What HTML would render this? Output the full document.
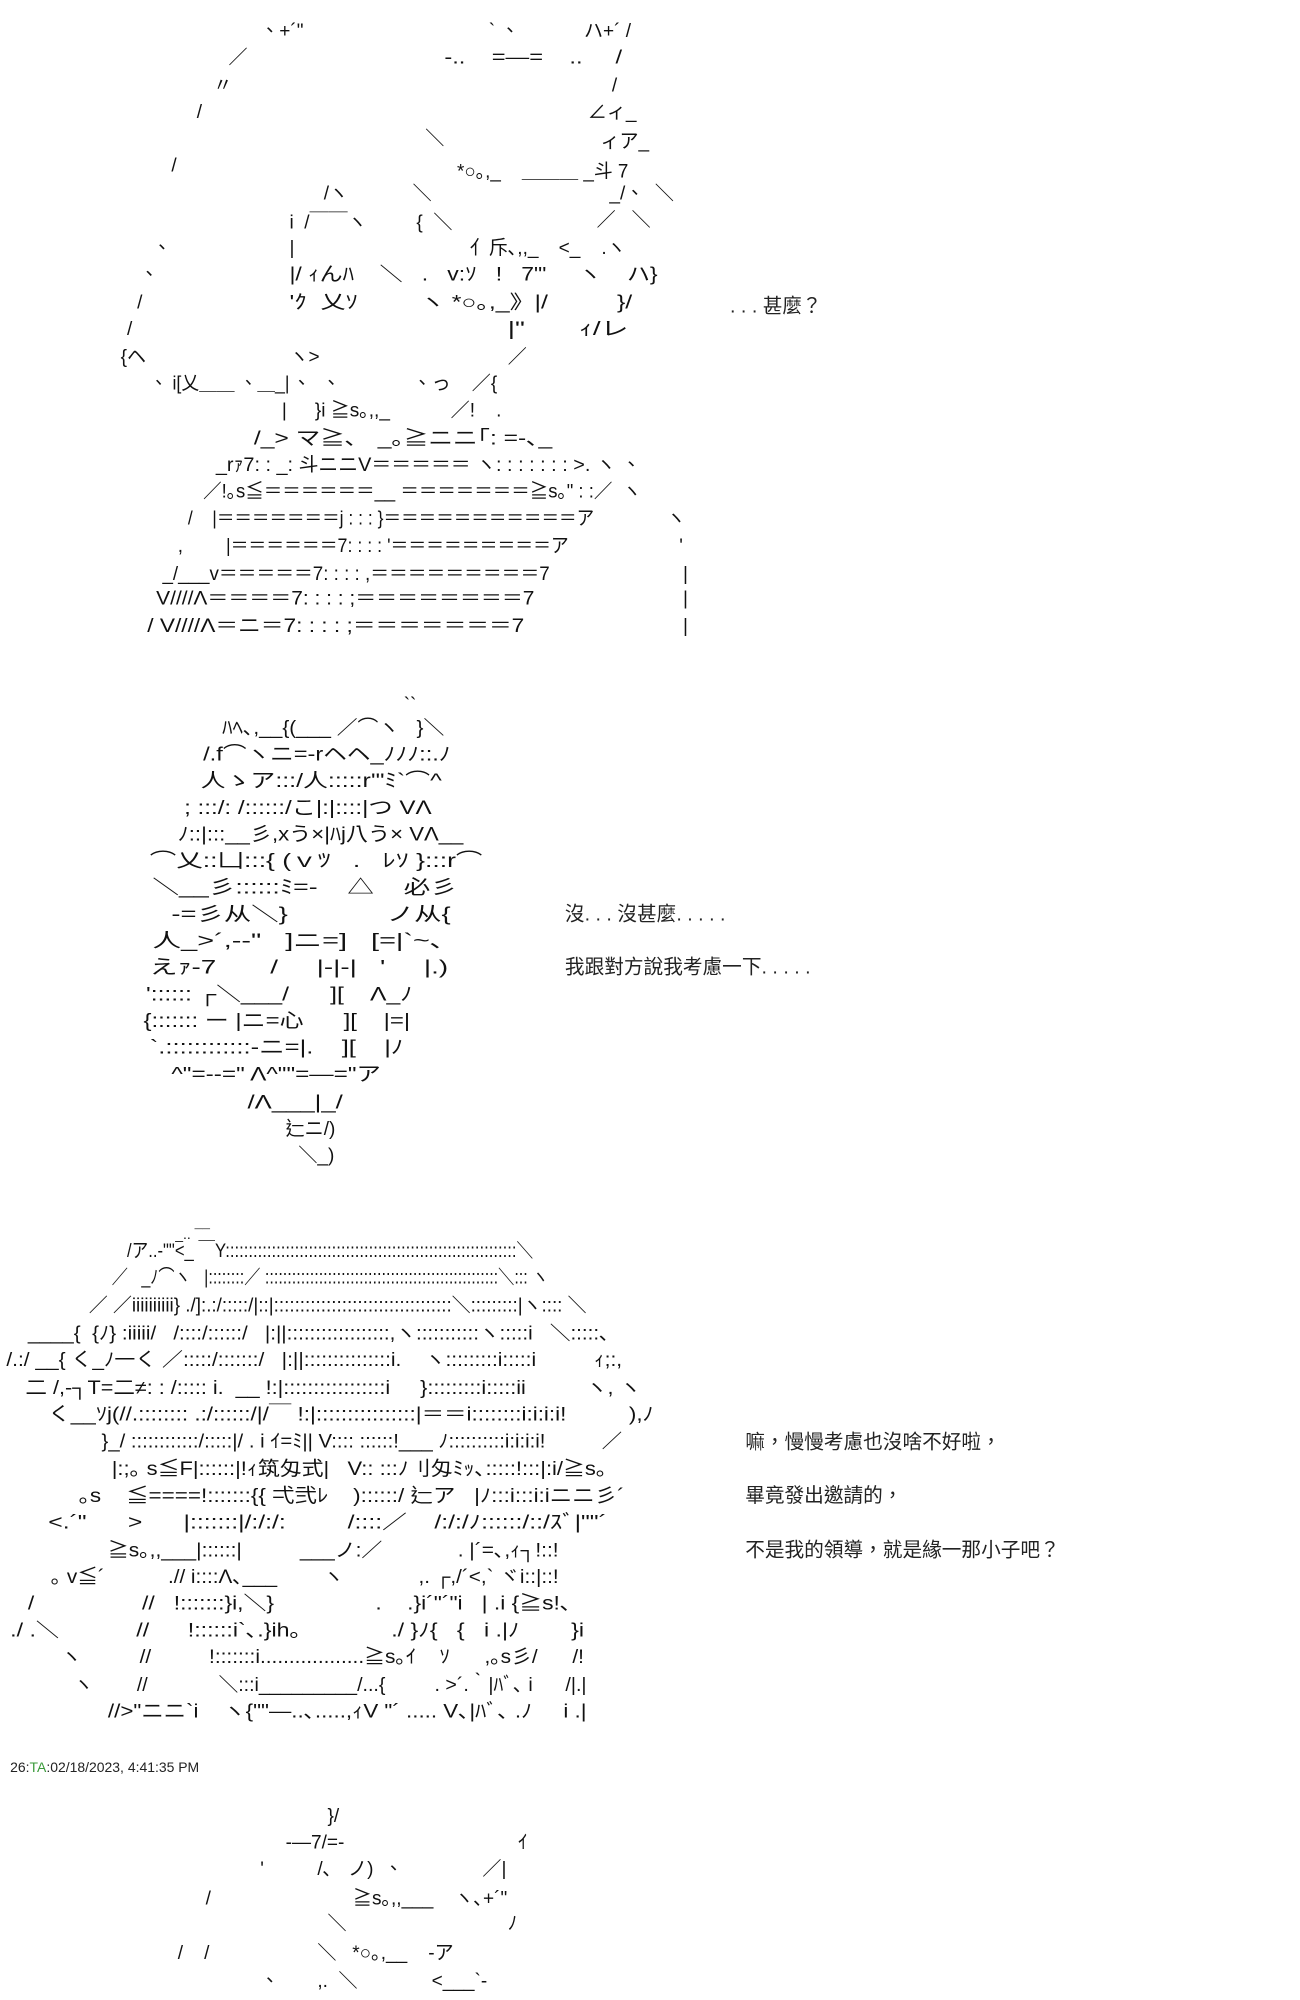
<!DOCTYPE html>
<html><head><meta charset="utf-8"><style>
html,body{margin:0;padding:0;background:#fff;}
svg{display:block;}
text{font-family:"Liberation Sans","Noto Sans CJK TC","Noto Sans CJK JP",sans-serif;fill:#111;font-size:15px;white-space:pre;}
.t{font-size:15.5px;fill:#222;}
.s{font-size:11px;fill:#222;}
</style></head><body>
<svg width="1300" height="2000" viewBox="0 0 1024 1575.4" xmlns="http://www.w3.org/2000/svg" xml:space="preserve">
<g>
<!-- Art 1 -->
<text x="205" y="29">、+´"</text><text x="385" y="29">` 、</text><text x="460" y="29">ハ+´ /</text>
<text x="180" y="50">／</text><text x="350" y="50" textLength="140" lengthAdjust="spacingAndGlyphs">-..    =―=    ..     /</text>
<text x="168" y="72">〃</text><text x="482" y="72">/</text>
<text x="155" y="93">/</text><text x="463" y="93">∠ィ_</text>
<text x="335" y="114">＼</text><text x="473" y="116">ィア_</text>
<text x="135" y="135">/</text><text x="360" y="140" textLength="135" lengthAdjust="spacingAndGlyphs">*○｡,_    ＿＿＿ _斗 7</text>
<text x="255" y="157">/ヽ</text><text x="325" y="157">＼</text><text x="480" y="157">_/、  ＼</text>
<text x="228" y="180">i  /￣￣ヽ</text><text x="328" y="180">{  ＼</text><text x="470" y="178">／   ＼</text>
<text x="120" y="200">、</text><text x="228" y="200">|</text><text x="370" y="200">亻斥､,,_</text><text x="440" y="200">&lt;_    .ヽ</text>
<text x="110" y="221">、</text><text x="228" y="221" textLength="290" lengthAdjust="spacingAndGlyphs">|/ ｨんﾊ    ＼   .   v:ｿ   !   7"'     ヽ    ハ}</text>
<text x="108" y="243">/</text><text x="228" y="243" textLength="270" lengthAdjust="spacingAndGlyphs">'ｸ  乂ｿ         ヽ *○｡,_》|/          }/</text>
<text x="100" y="264">/</text><text x="400" y="264" textLength="95" lengthAdjust="spacingAndGlyphs">|"       ｨ/レ</text>
<text x="95" y="286">{ヘ</text><text x="228" y="286">ヽ&gt;</text><text x="400" y="286">／</text>
<text x="118" y="307" textLength="110" lengthAdjust="spacingAndGlyphs">、 i[乂＿＿ 、＿_|</text><text x="230" y="307">、  、</text><text x="325" y="307">、っ    ／{</text>
<text x="222" y="328">|</text><text x="248" y="328">}i ≧s｡,,_</text><text x="355" y="328">／!    .</text>
<text x="200" y="350" textLength="235" lengthAdjust="spacingAndGlyphs">/_&gt; マ≧､   _｡≧ニニ｢: =-､_</text>
<text x="170" y="371" textLength="335" lengthAdjust="spacingAndGlyphs">_rｧ7: : _: 斗ニニV＝＝＝＝＝ ヽ: : : : : : : &gt;. ヽ 、</text>
<text x="160" y="392" textLength="345" lengthAdjust="spacingAndGlyphs">／!｡s≦＝＝＝＝＝＝__ ＝＝＝＝＝＝＝≧s｡" : :／  ヽ</text>
<text x="148" y="413" textLength="320" lengthAdjust="spacingAndGlyphs">/    |＝＝＝＝＝＝＝j : : : }＝＝＝＝＝＝＝＝＝＝＝ア</text><text x="525" y="413">ヽ</text>
<text x="140" y="435">,</text><text x="178" y="435" textLength="270" lengthAdjust="spacingAndGlyphs">|＝＝＝＝＝＝7: : : : '＝＝＝＝＝＝＝＝＝ア</text><text x="535" y="435">'</text>
<text x="128" y="457" textLength="305" lengthAdjust="spacingAndGlyphs">_/___v＝＝＝＝＝7: : : : ,＝＝＝＝＝＝＝＝＝7</text><text x="538" y="457">|</text>
<text x="123" y="476" textLength="298" lengthAdjust="spacingAndGlyphs">V////Λ＝＝＝＝7: : : : ;＝＝＝＝＝＝＝＝7</text><text x="538" y="476">|</text>
<text x="116" y="498" textLength="297" lengthAdjust="spacingAndGlyphs">/ V////Λ＝ニ＝7: : : : ;＝＝＝＝＝＝＝7</text><text x="538" y="498">|</text>
<text class="t" x="575" y="246">. . . 甚麼？</text>

<!-- Art 2 -->
<text x="318" y="560">``</text>
<text x="175" y="578" textLength="175" lengthAdjust="spacingAndGlyphs">ﾊﾍ､,__{(___ ／⌒ヽ   }＼</text>
<text x="160" y="599" textLength="195" lengthAdjust="spacingAndGlyphs">/.f⌒ヽニ=-rヘヘ_ﾉﾉﾉ::.ﾉ</text>
<text x="158" y="620" textLength="190" lengthAdjust="spacingAndGlyphs">人ゝア:::/人:::::r'"ﾐ`⌒^</text>
<text x="145" y="641" textLength="195" lengthAdjust="spacingAndGlyphs">; :::/: /::::::/こ|:|::::|つ VΛ</text>
<text x="140" y="662" textLength="225" lengthAdjust="spacingAndGlyphs">ﾉ::|:::__彡,xう×|ﾊj八う× VΛ__</text>
<text x="118" y="683" textLength="262" lengthAdjust="spacingAndGlyphs">⌒乂::凵:::{ (ｖﾂ   .   ﾚｿ }:::r⌒</text>
<text x="120" y="704" textLength="240" lengthAdjust="spacingAndGlyphs">＼__彡::::::ﾐ=-    △    必彡</text>
<text x="135" y="725" textLength="220" lengthAdjust="spacingAndGlyphs">-=彡从＼}             ノ从{</text>
<text x="120" y="746" textLength="230" lengthAdjust="spacingAndGlyphs">人_&gt;´,-‐"   ]ニ=]   [=|`~､</text>
<text x="118" y="767" textLength="235" lengthAdjust="spacingAndGlyphs">えｧ-7       /     |-|-|   '     |.)</text>
<text x="115" y="788" textLength="210" lengthAdjust="spacingAndGlyphs">':::::: ┌＼___/      ][    Λ_ﾉ</text>
<text x="113" y="809" textLength="210" lengthAdjust="spacingAndGlyphs">{::::::: ー |ニ=心      ][    |=|</text>
<text x="118" y="830" textLength="200" lengthAdjust="spacingAndGlyphs">`.::::::::::::-ニ=|.    ][    |ﾉ</text>
<text x="135" y="851" textLength="165" lengthAdjust="spacingAndGlyphs">^"=-‐=" Λ^""=―="ア</text>
<text x="195" y="873" textLength="75" lengthAdjust="spacingAndGlyphs">/Λ___|_/</text>
<text x="225" y="894">辷ニ/)</text>
<text x="235" y="915">＼_)</text>
<text class="t" x="445" y="725">沒. . . 沒甚麼. . . . .</text>
<text class="t" x="445" y="767">我跟對方說我考慮一下. . . . .</text>

<!-- Art 3 -->
<text x="138" y="976" style="font-size:11px">_.. ¯¯</text>
<text x="100" y="990" textLength="320" lengthAdjust="spacingAndGlyphs">/ア..-""&lt;_ ￣Y:::::::::::::::::::::::::::::::::::::::::::::::::::::::::::::::＼</text>
<text x="88" y="1011" textLength="344" lengthAdjust="spacingAndGlyphs">／   _ﾉ⌒ヽ   |::::::::／ ::::::::::::::::::::::::::::::::::::::::::::::::::::＼::: ヽ</text>
<text x="70" y="1033" textLength="392" lengthAdjust="spacingAndGlyphs">／ ／iiiiiiiiii} ./]:.:/:::::/|::|::::::::::::::::::::::::::::::::::＼:::::::::|ヽ:::: ＼</text>
<text x="22" y="1055" textLength="458" lengthAdjust="spacingAndGlyphs">____{  {ﾉ} :iiiii/   /::::/::::::/   |:||::::::::::::::::::,ヽ:::::::::::ヽ:::::i   ＼:::::､</text>
<text x="5" y="1076" textLength="485" lengthAdjust="spacingAndGlyphs">/.:/ __{ く_ﾉ一く ／:::::/:::::::/   |:||:::::::::::::::i.    ヽ:::::::::i:::::i          ｨ;:,</text>
<text x="20" y="1098" textLength="485" lengthAdjust="spacingAndGlyphs">二 /,-┐T=二≠: : /::::: i.  __ !:|:::::::::::::::::i     }:::::::::i:::::ii          ヽ, ヽ</text>
<text x="38" y="1119" textLength="477" lengthAdjust="spacingAndGlyphs">く__ｿj(//.:::::::: .:/::::::/|/￣ !:|::::::::::::::::|＝＝i::::::::i:i:i:i!          ),ﾉ</text>
<text x="80" y="1140" textLength="410" lengthAdjust="spacingAndGlyphs">}_/ ::::::::::::/:::::|/ . i ｲ=ﾐ|| V:::: ::::::!___ ﾉ::::::::::i:i:i:i!          ／</text>
<text x="88" y="1162" textLength="390" lengthAdjust="spacingAndGlyphs">|:;｡ s≦F|::::::|!ｨ筑匁式|   V:: :::ﾉ刂匁ﾐｯ､:::::!:::|:i/≧s｡</text>
<text x="62" y="1183" textLength="430" lengthAdjust="spacingAndGlyphs">｡s    ≦====!:::::::{{ 弌弐ﾚ    )::::::/ 辷ア   |ﾉ:::i:::i:iニニ彡´</text>
<text x="38" y="1204" textLength="440" lengthAdjust="spacingAndGlyphs">&lt;.´"      &gt;      |:::::::|/:/:/:         /::::／    /:/:/ﾉ::::::/::/ｽﾞ|""´</text>
<text x="85" y="1226" textLength="355" lengthAdjust="spacingAndGlyphs">≧s｡,,___|::::::|          ___ノ:／             . |´=､,ｨ┐!::!</text>
<text x="40" y="1247" textLength="400" lengthAdjust="spacingAndGlyphs">｡ v≦´           .// i::::Λ､___        ヽ             ,. ┌,/´&lt;,` ヾi::|::!</text>
<text x="22" y="1268" textLength="428" lengthAdjust="spacingAndGlyphs">/                 //   !:::::::}i,＼}                .    .}i´"´"i   | .i {≧s!､</text>
<text x="8" y="1289" textLength="452" lengthAdjust="spacingAndGlyphs">./ .＼            //      !::::::i`､.}ih｡              ./ }ﾉ{   {   i .|ﾉ        }i</text>
<text x="48" y="1310" textLength="412" lengthAdjust="spacingAndGlyphs">ヽ          //          !:::::::i..................≧s｡ｲ    ｿ      ,｡s彡/      /!</text>
<text x="58" y="1332" textLength="404" lengthAdjust="spacingAndGlyphs">ヽ        //             ＼:::i_________/...{         . &gt;´.｀|ﾊﾞ､ i      /|.|</text>
<text x="85" y="1353" textLength="377" lengthAdjust="spacingAndGlyphs">//&gt;"ニニ`i    ヽ{""―..､.....,ｨV "´ ..... V､|ﾊﾞ､ .ﾉ     i .|</text>
<text class="t" x="587" y="1141">嘛，慢慢考慮也沒啥不好啦，</text>
<text class="t" x="587" y="1183">畢竟發出邀請的，</text>
<text class="t" x="587" y="1226">不是我的領導，就是緣一那小子吧？</text>

<!-- timestamp -->
<text class="s" x="8" y="1396">26:<tspan style="fill:#3a9a3a">TA</tspan>:02/18/2023, 4:41:35 PM</text>

<!-- Art 4 -->
<text x="258" y="1435">}/</text>
<text x="225" y="1456">-―7/=-</text><text x="408" y="1456">ｲ</text>
<text x="205" y="1477">'</text><text x="250" y="1477">/､   ノ)  、</text><text x="380" y="1477">／|</text>
<text x="162" y="1500">/</text><text x="278" y="1500">≧s｡,,___    ヽ､+´"</text>
<text x="258" y="1520">＼</text><text x="400" y="1520">ﾉ</text>
<text x="140" y="1543">/    /</text><text x="250" y="1543">＼   *○｡,__    -ア</text>
<text x="205" y="1565">、</text><text x="250" y="1565">,.  ＼</text><text x="340" y="1565">&lt;___`-</text>
</g>
</svg>
</body></html>
